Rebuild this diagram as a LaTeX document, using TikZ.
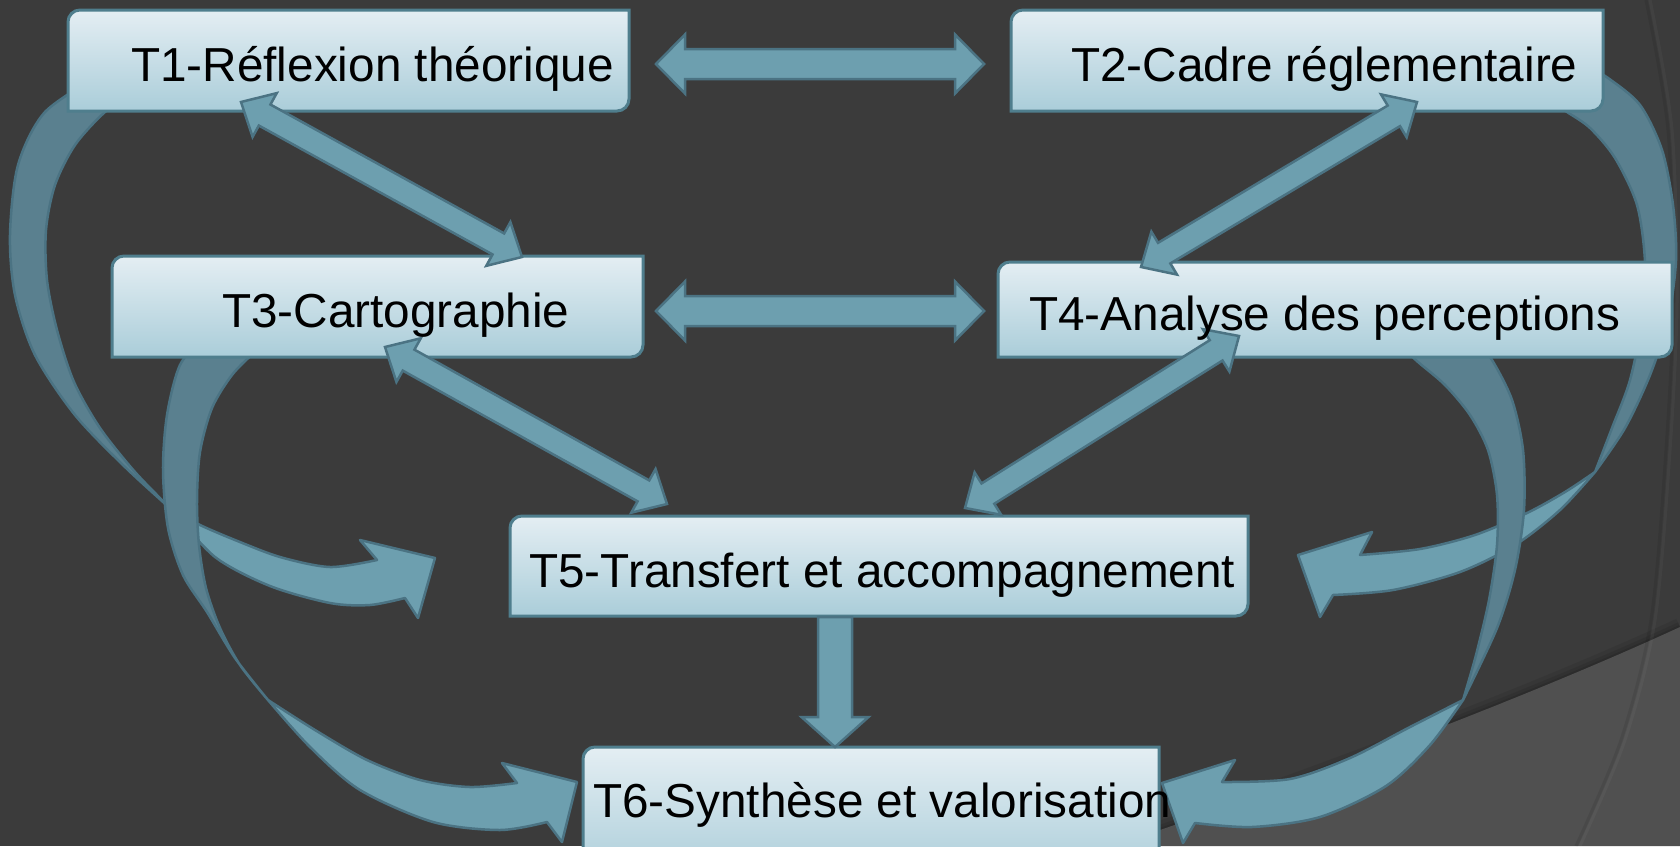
\documentclass[tikz,border=0pt]{standalone}
\usepackage{fontspec}
\setmainfont{Liberation Sans}
\usetikzlibrary{calc}
\definecolor{bgdark}{HTML}{3B3B3B}
\definecolor{bglight}{HTML}{505050}
\definecolor{arrfront}{HTML}{6D9FAF}
\definecolor{arrback}{HTML}{5A808F}
\definecolor{arredge}{HTML}{4B7383}
\definecolor{boxtop}{HTML}{E4EEF3}
\definecolor{boxbot}{HTML}{AACDD9}
\definecolor{boxedge}{HTML}{4F7E8D}
\tikzset{
  straightarrow/.style={fill=arrfront, draw=arredge, line width=2.5pt, line join=miter},
  frontface/.style={fill=arrfront, draw=arredge, line width=2.5pt, line join=round},
  backface/.style={fill=arrback, draw=arredge, line width=2.5pt, line join=round},
  boxstyle/.style={top color=boxtop, bottom color=boxbot, draw=boxedge, line width=3pt},
  tasktext/.style={anchor=base west, inner sep=0pt, font=\fontsize{47.7}{55}\selectfont, text=black},
}
\newcommand{\dblarrow}[5]{%
  \pgfpointdiff{\pgfpointanchor{#1}{center}}{\pgfpointanchor{#2}{center}}%
  \pgfgetlastxy{\myax}{\myay}%
  \pgfmathsetmacro{\mylen}{veclen(\myax,\myay)}%
  \pgfmathsetmacro{\myang}{atan2(\myay,\myax)}%
  \begin{scope}[shift={(#1)}, rotate=\myang, x=1pt, y=1pt]
    \filldraw[straightarrow] (0,0) -- (#5,#4) -- (#5,#3) -- (\mylen-#5,#3) -- (\mylen-#5,#4) -- (\mylen,0) -- (\mylen-#5,-#4) -- (\mylen-#5,-#3) -- (#5,-#3) -- (#5,-#4) -- cycle;
  \end{scope}}
\newcommand{\onearrow}[5]{%
  \pgfpointdiff{\pgfpointanchor{#1}{center}}{\pgfpointanchor{#2}{center}}%
  \pgfgetlastxy{\myax}{\myay}%
  \pgfmathsetmacro{\mylen}{veclen(\myax,\myay)}%
  \pgfmathsetmacro{\myang}{atan2(\myay,\myax)}%
  \begin{scope}[shift={(#1)}, rotate=\myang, x=1pt, y=1pt]
    \filldraw[straightarrow] (0,#3) -- (\mylen-#5,#3) -- (\mylen-#5,#4) -- (\mylen,0) -- (\mylen-#5,-#4) -- (\mylen-#5,-#3) -- (0,-#3) -- cycle;
  \end{scope}}
% box with rounded top-left and bottom-right corners: x1,y1 (top-left), x2,y2 (bottom-right), image coords
\newcommand{\taskbox}[4]{%
  \draw[boxstyle] (#1,#4) -- (#1,#2+12) .. controls (#1,#2+5.4) and (#1+5.4,#2) .. (#1+12,#2) -- (#3,#2) -- (#3,#4-12) .. controls (#3,#4-5.4) and (#3-5.4,#4) .. (#3-12,#4) -- cycle;}
\begin{document}
\begin{tikzpicture}[x=1pt,y=-1pt]
\useasboundingbox (0,0) rectangle (1680,846);
\clip (0,0) rectangle (1680,846);
% background
\fill[bgdark] (0,0) rectangle (1680,846);
\draw[black, opacity=0.07, line width=18pt] (1113,846) .. controls (1250,800) and (1500,710) .. (1680,627);
\draw[black, opacity=0.08, line width=10pt] (1113,846) .. controls (1250,800) and (1500,710) .. (1680,627);
\draw[black, opacity=0.10, line width=4pt] (1113,846) .. controls (1250,800) and (1500,710) .. (1680,627);
\fill[bglight] (1113,846) .. controls (1250,800) and (1500,710) .. (1680,627) -- (1680,846) -- cycle;
\draw[white, opacity=0.035, line width=3pt] plot[smooth] coordinates {(1650,0) (1672,130) (1677,300) (1670,450) (1655,620) (1625,740) (1580,846)};
\draw[black, opacity=0.08, line width=3pt] plot[smooth] coordinates {(1646,0) (1668,130) (1673,300) (1666,450) (1651,620) (1621,740) (1576,846)};

% ---- curved arrow A : T1 -> T5
\filldraw[frontface] plot[smooth] coordinates {(172,510) (215,557) (270,586) (330,603) (370,605) (405,598)}
  -- (418,618) -- (435,558) -- (360,540)
  -- plot[smooth] coordinates {(377,560) (330,567) (280,557) (235,540) (200,525) (172,510)} -- cycle;
\filldraw[backface] plot[smooth] coordinates {(100,75) (45,112) (18,165) (10,235) (15,295) (35,355) (75,415) (125,467) (172,510)}
  -- plot[smooth] coordinates {(172,510) (135,472) (100,428) (74,382) (57,330) (47,280) (46,230) (55,185) (75,145) (105,112) (130,97)} -- cycle;
% ---- curved arrow C : T2 -> T5
\filldraw[frontface] plot[smooth] coordinates {(1595,472) (1560,510) (1515,545) (1460,572) (1393,590) (1333,595)}
  -- (1320,617) -- (1298,555) -- (1372,532)
  -- plot[smooth] coordinates {(1360,555) (1420,549) (1475,535) (1527,513) (1565,492) (1595,472)} -- cycle;
\filldraw[backface] plot[smooth] coordinates {(1585,65) (1608,78) (1640,105) (1662,150) (1673,205) (1676,260) (1668,320) (1650,375) (1625,428) (1595,472)}
  -- plot[smooth] coordinates {(1595,472) (1612,428) (1630,380) (1642,320) (1645,262) (1637,205) (1615,158) (1590,128) (1567,112) (1545,98)} -- cycle;
% ---- curved arrow B : T3 -> T6
\filldraw[frontface] plot[smooth] coordinates {(268,700) (310,747) (360,790) (433,822) (500,830) (547,822)}
  -- (562,842) -- (577,782) -- (502,763)
  -- plot[smooth] coordinates {(517,783) (470,787) (420,780) (367,760) (315,730) (268,700)} -- cycle;
\filldraw[backface] plot[smooth] coordinates {(205,335) (180,365) (167,415) (163,470) (168,528) (183,575) (207,612) (235,658) (268,700)}
  -- plot[smooth] coordinates {(268,700) (240,665) (220,628) (206,588) (199,545) (197,500) (200,452) (212,408) (232,375) (255,352) (275,338)} -- cycle;
% ---- curved arrow D : T4 -> T6
\filldraw[frontface] plot[smooth] coordinates {(1463,700) (1430,745) (1386,786) (1320,817) (1252,827) (1195,823)}
  -- (1183,843) -- (1162,783) -- (1235,760)
  -- plot[smooth] coordinates {(1222,782) (1290,779) (1350,758) (1410,727) (1463,700)} -- cycle;
\filldraw[backface] plot[smooth] coordinates {(1475,340) (1492,360) (1512,400) (1523,450) (1524,510) (1515,570) (1497,628) (1463,700)}
  -- plot[smooth] coordinates {(1463,700) (1476,655) (1489,600) (1497,545) (1497,495) (1488,450) (1470,415) (1445,385) (1418,362) (1400,345)} -- cycle;

% ---- boxes
\taskbox{68}{10}{629}{111}
\taskbox{1011}{10}{1603}{111}
\taskbox{112}{256}{643}{357}
\taskbox{998}{262}{1672}{357}
\taskbox{510}{516}{1248}{616}
\taskbox{583}{747}{1159}{880}

% ---- straight arrows
\coordinate (h12a) at (656,64);  \coordinate (h12b) at (984,64);
\coordinate (h34a) at (656,311); \coordinate (h34b) at (984,311);
\coordinate (d13a) at (241,102); \coordinate (d13b) at (522,257);
\coordinate (d24a) at (1417,102); \coordinate (d24b) at (1141,267);
\coordinate (d35a) at (385,347); \coordinate (d35b) at (667,504);
\coordinate (d45a) at (1239,336); \coordinate (d45b) at (965,508);
\coordinate (v56a) at (835,617); \coordinate (v56b) at (835,747);
\dblarrow{h12a}{h12b}{15}{29.5}{29}
\dblarrow{h34a}{h34b}{15}{29.5}{29}
\dblarrow{d13a}{d13b}{12}{25}{27}
\dblarrow{d24a}{d24b}{12}{25}{27}
\dblarrow{d35a}{d35b}{12}{25}{27}
\dblarrow{d45a}{d45b}{12}{25}{27}
\onearrow{v56a}{v56b}{17}{33.5}{30}

% ---- texts
\node[tasktext] (t1) at (131,81) {T1-Réflexion théorique};
\node[tasktext] (t2) at (1071,81) {T2-Cadre réglementaire};
\node[tasktext] (t3) at (222,327) {T3-Cartographie};
\node[tasktext] (t4) at (1029,330) {T4-Analyse des perceptions};
\node[tasktext] (t5) at (529,587) {T5-Transfert et accompagnement};
\node[tasktext] (t6) at (593,817) {T6-Synthèse et valorisation};
\end{tikzpicture}
\end{document}
